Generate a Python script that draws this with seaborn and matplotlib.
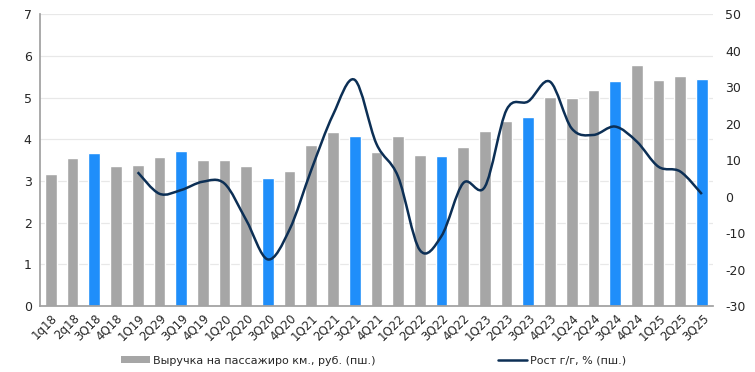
"""
Revenue per passenger-km (bars) with y/y growth (smooth line, right axis).
"""

import numpy as np
import matplotlib
matplotlib.use("Agg")
import matplotlib.pyplot as plt
from matplotlib.path import Path
from matplotlib.patches import PathPatch, Patch
from matplotlib.lines import Line2D
import seaborn as sns

# Data
quarters = ['1q18', '2q18', '3Q18', '4Q18', '1Q19', '2Q29', '3Q19', '4Q19',
            '1Q20', '2Q20', '3Q20', '4Q20', '1Q21', '2Q21', '3Q21', '4Q21',
            '1Q22', '2Q22', '3Q22', '4Q22', '1Q23', '2Q23', '3Q23', '4Q23',
            '1Q24', '2Q24', '3Q24', '4Q24', '1Q25', '2Q25', '3Q25']
revenue = [3.17, 3.55, 3.67, 3.36, 3.38, 3.58, 3.72, 3.50,
           3.50, 3.36, 3.07, 3.24, 3.86, 4.18, 4.08, 3.70,
           4.08, 3.62, 3.60, 3.82, 4.20, 4.44, 4.54, 5.02,
           4.99, 5.18, 5.40, 5.78, 5.42, 5.52, 5.45]
# growth series starts at 1Q19
growth_quarters = quarters[4:]
growth = [6.7, 0.8, 1.8, 4.1, 3.6, -6.4, -17.2, -9.0, 7.3, 22.4, 32.0, 14.5,
          5.5, -14.6, -10.8, 3.7, 2.7, 23.8, 26.1, 31.5, 18.7, 16.9, 19.2,
          15.1, 8.2, 6.9, 0.7]

bar_label = "Выручка на пассажиро км., руб. (пш.)"
line_label = "Рост г/г, % (пш.)"

GREY = "#A6A6A6"
BLUE = "#1F8EFA"
NAVY = "#0C2F55"
TEXT = "#262626"

sns.set_theme(style="white")
plt.rcParams['font.family'] = ['DejaVu Sans']
plt.rcParams['axes.unicode_minus'] = False

fig = plt.figure(figsize=(7.55, 3.72), dpi=100)
ax = fig.add_axes([0.053, 0.177, 0.891, 0.785])

# third quarters are highlighted in blue
colors = [BLUE if q.upper().startswith('3Q') else GREY for q in quarters]
sns.barplot(x=quarters, y=revenue, hue=quarters, palette=colors,
            legend=False, width=0.54, saturation=1, ax=ax, zorder=2)

ax.set_xlim(-0.5, len(quarters) - 0.5)
ax.set_ylim(0, 7)
ax.set_yticks(range(0, 8))
ax.yaxis.grid(True, color="#E8E8E8", linewidth=0.9, zorder=0)
ax.set_axisbelow(True)
for side in ["top", "right"]:
    ax.spines[side].set_visible(False)
ax.spines["left"].set_color("#A0A0A0")
ax.spines["bottom"].set_color("#A0A0A0")
ax.tick_params(axis="both", length=0, labelsize=9, colors=TEXT, pad=6)
ax.set_xticks(range(len(quarters)))
ax.set_xticklabels(quarters, rotation=45, ha="right", rotation_mode="anchor",
                   fontsize=8.5)
ax.tick_params(axis="x", pad=4)
ax.set_xlabel("")
ax.set_ylabel("")

# growth line on secondary axis, smoothed like Excel (Catmull-Rom Bezier)
ax2 = ax.twinx()
ax2.set_ylim(-30, 50)
ax2.set_yticks(range(-30, 51, 10))
for side in ["top", "right", "left", "bottom"]:
    ax2.spines[side].set_visible(False)
ax2.tick_params(axis="y", length=0, labelsize=9, colors=TEXT, pad=9)

xs = np.array([quarters.index(q) for q in growth_quarters], dtype=float)
ys = np.array(growth, dtype=float)
pts = np.column_stack([xs, ys])
ext = np.vstack([pts[0], pts, pts[-1]])
verts = [tuple(pts[0])]
codes = [Path.MOVETO]
for i in range(1, len(ext) - 2):
    p0, p1, p2, p3 = ext[i - 1], ext[i], ext[i + 1], ext[i + 2]
    c1 = p1 + (p2 - p0) / 6.0
    c2 = p2 - (p3 - p1) / 6.0
    verts += [tuple(c1), tuple(c2), tuple(p2)]
    codes += [Path.CURVE4] * 3
ax2.add_patch(PathPatch(Path(verts, codes), facecolor="none", edgecolor=NAVY,
                        linewidth=1.8, zorder=3))

handles = [Patch(facecolor=GREY, edgecolor="none", label=bar_label),
           Line2D([0], [0], color=NAVY, linewidth=1.8, label=line_label)]
fig.legend(handles=handles, loc="center", bbox_to_anchor=(0.495, 0.03),
           ncol=2, frameon=False, fontsize=8, columnspacing=11,
           handlelength=2.6, handleheight=0.6, handletextpad=0.3,
           labelcolor=TEXT)

fig.savefig("out.png", dpi=100)
